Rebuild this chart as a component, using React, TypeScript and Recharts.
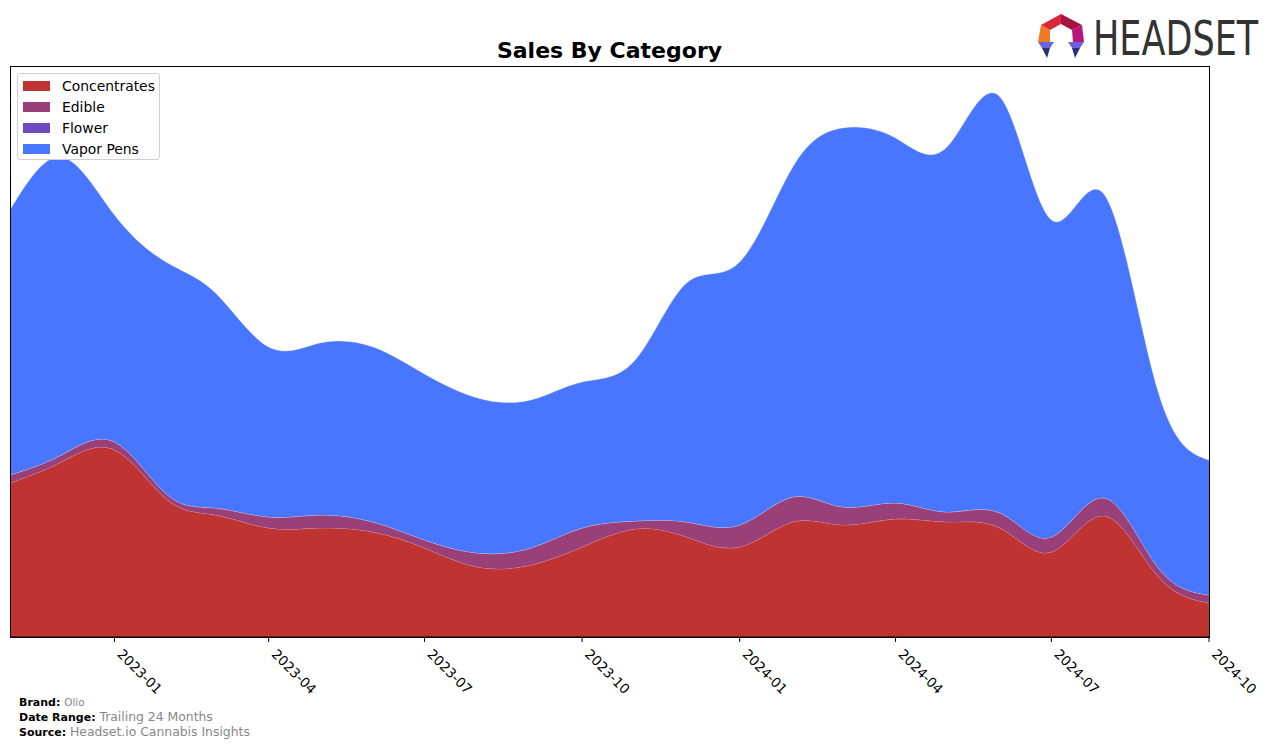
import React from "react";
import { AreaChart, Area, XAxis, YAxis } from "recharts";

const months: string[] = [
  "2022-11", "2022-12", "2023-01", "2023-02", "2023-03", "2023-04",
  "2023-05", "2023-06", "2023-07", "2023-08", "2023-09", "2023-10",
  "2023-11", "2023-12", "2024-01", "2024-02", "2024-03", "2024-04",
  "2024-05", "2024-06", "2024-07", "2024-08", "2024-09", "2024-10",
];

const concentrates: number[] = [154, 175, 187, 137, 122, 109, 109, 105, 89, 70, 72, 90, 108, 100, 90, 115, 112, 118, 115, 109, 85, 121, 61, 34];
const edible: number[] = [8, 7, 8, 5, 7, 11, 13, 10, 8, 14, 17, 19, 8, 15, 22, 25, 18, 16, 10, 15, 15, 18, 9, 8];
const flower: number[] = [0, 0, 0, 0, 0, 0, 0, 0, 0, 0, 0, 0, 0, 0, 0, 0, 0, 0, 0, 0, 0, 0, 0, 0];
const vaporPens: number[] = [265, 298, 227, 232, 215, 170, 172, 175, 166, 155, 148, 146, 161, 239, 263, 330, 379, 365, 365, 416, 317, 303, 177, 135];

const tickLabels: string[] = ["2023-01", "2023-04", "2023-07", "2023-10", "2024-01", "2024-04", "2024-07", "2024-10"];

const toTs = (s: string) => {
  const [y, m] = s.split("-").map(Number);
  return Date.UTC(y, m - 1, 1);
};

const data = months.map((m, i) => ({
  t: toTs(m),
  Concentrates: concentrates[i],
  Edible: edible[i],
  Flower: flower[i],
  "Vapor Pens": vaporPens[i],
}));

const series = [
  { key: "Concentrates", color: "#c03333" },
  { key: "Edible", color: "#984077" },
  { key: "Flower", color: "#6b4cc0" },
  { key: "Vapor Pens", color: "#4876ff" },
];

const tickValues = tickLabels.map(toTs);

const fmt = (v: number) => {
  const d = new Date(v);
  const mm = String(d.getUTCMonth() + 1).padStart(2, "0");
  return `${d.getUTCFullYear()}-${mm}`;
};

const FONT = "'DejaVu Sans', sans-serif";

const RotTick = (props: any) => {
  const { x, y, payload } = props;
  return (
    <g transform={`translate(${x + 2},${y + 13}) rotate(45)`}>
      <text x={0} y={0} textAnchor="start" fontSize={13.5} fontFamily={FONT} fill="#000">
        {fmt(payload.value)}
      </text>
    </g>
  );
};

const LegendBox = () => (
  <div
    style={{
      position: "absolute",
      left: 17,
      top: 73,
      width: 143,
      height: 87,
      background: "#fff",
      border: "1px solid #d0d0d0",
      borderRadius: 3,
      boxSizing: "border-box",
      padding: "1px 0 0 5px",
      fontFamily: FONT,
      fontSize: 13.9,
      color: "#000",
    }}
  >
    {series.map((s) => (
      <div key={s.key} style={{ display: "flex", alignItems: "center", height: 21 }}>
        <div style={{ width: 27, height: 10, background: s.color, marginRight: 12 }} />
        <span>{s.key}</span>
      </div>
    ))}
  </div>
);

const Logo = () => (
  <svg width={246} height={60} style={{ position: "absolute", left: 1030, top: 5 }} viewBox="1030 5 246 60">
    <polygon points="1041,25 1061,14 1061,24 1050,30" fill="#d8283a" />
    <polygon points="1061,14 1082,25 1072,30 1061,24" fill="#a3153f" />
    <polygon points="1082,25 1084,42 1073,42 1072,30" fill="#b8157c" />
    <polygon points="1041,25 1050,30 1050,42 1038,42" fill="#f07a22" />
    <polygon points="1038,42 1054,42 1050,48 1042,48" fill="#6a62e0" />
    <polygon points="1042,48 1050,48 1047,58" fill="#2b2f7e" />
    <polygon points="1068,42 1084,42 1080,48 1072,48" fill="#6a62e0" />
    <polygon points="1072,48 1080,48 1075,58" fill="#2b2f7e" />
    <g transform="translate(1093,55) scale(0.73,1)">
      <text x={0} y={0} fontFamily={FONT} fontSize={48} fill="#333">
        HEADSET
      </text>
    </g>
  </svg>
);

export default function App() {
  return (
    <div style={{ position: "absolute", left: 0, top: 0, width: 1276, height: 744, background: "#fff", fontFamily: FONT }}>
      <div
        style={{
          position: "absolute",
          left: 0,
          width: 1219,
          top: 38,
          textAlign: "center",
          fontWeight: "bold",
          fontSize: 22,
          fontFamily: FONT,
          color: "#000",
        }}
      >
        Sales By Category
      </div>
      <Logo />
      <div style={{ position: "absolute", left: 0, top: 0 }}>
        <AreaChart
          width={1276}
          height={744}
          data={data}
          margin={{ top: 66, right: 67, left: 10, bottom: 47 }}
        >
          <XAxis
            dataKey="t"
            type="number"
            scale="time"
            domain={[toTs("2022-11"), toTs("2024-10")]}
            ticks={tickValues}
            tick={<RotTick />}
            tickLine={{ stroke: "#000" }}
            axisLine={{ stroke: "#000" }}
            tickSize={5}
            tickMargin={0}
            height={60}
            interval={0}
            allowDataOverflow
          />
          <YAxis hide domain={[0, 571]} allowDataOverflow />
          {series.map((s) => (
            <Area
              key={s.key}
              dataKey={s.key}
              stackId="1"
              type="natural"
              fill={s.color}
              fillOpacity={1}
              stroke="#ffffff"
              strokeOpacity={0.3}
              strokeWidth={1}
              isAnimationActive={false}
              dot={false}
              activeDot={false}
            />
          ))}
        </AreaChart>
      </div>
      <div
        style={{
          position: "absolute",
          left: 10,
          top: 66,
          width: 1200,
          height: 572,
          border: "1px solid #000",
          boxSizing: "border-box",
          pointerEvents: "none",
        }}
      />
      <LegendBox />
      <div style={{ position: "absolute", left: 19, top: 694, fontFamily: FONT, lineHeight: "13px", whiteSpace: "nowrap" }}>
        <div>
          <span style={{ fontWeight: "bold", fontSize: 11, color: "#000" }}>Brand: </span>
          <span style={{ fontSize: 10.5, color: "#888" }}>Olio</span>
        </div>
        <div>
          <span style={{ fontWeight: "bold", fontSize: 11, color: "#000" }}>Date Range: </span>
          <span style={{ fontSize: 12.4, color: "#888" }}>Trailing 24 Months</span>
        </div>
        <div>
          <span style={{ fontWeight: "bold", fontSize: 11, color: "#000" }}>Source: </span>
          <span style={{ fontSize: 12.4, color: "#888" }}>Headset.io Cannabis Insights</span>
        </div>
      </div>
    </div>
  );
}
